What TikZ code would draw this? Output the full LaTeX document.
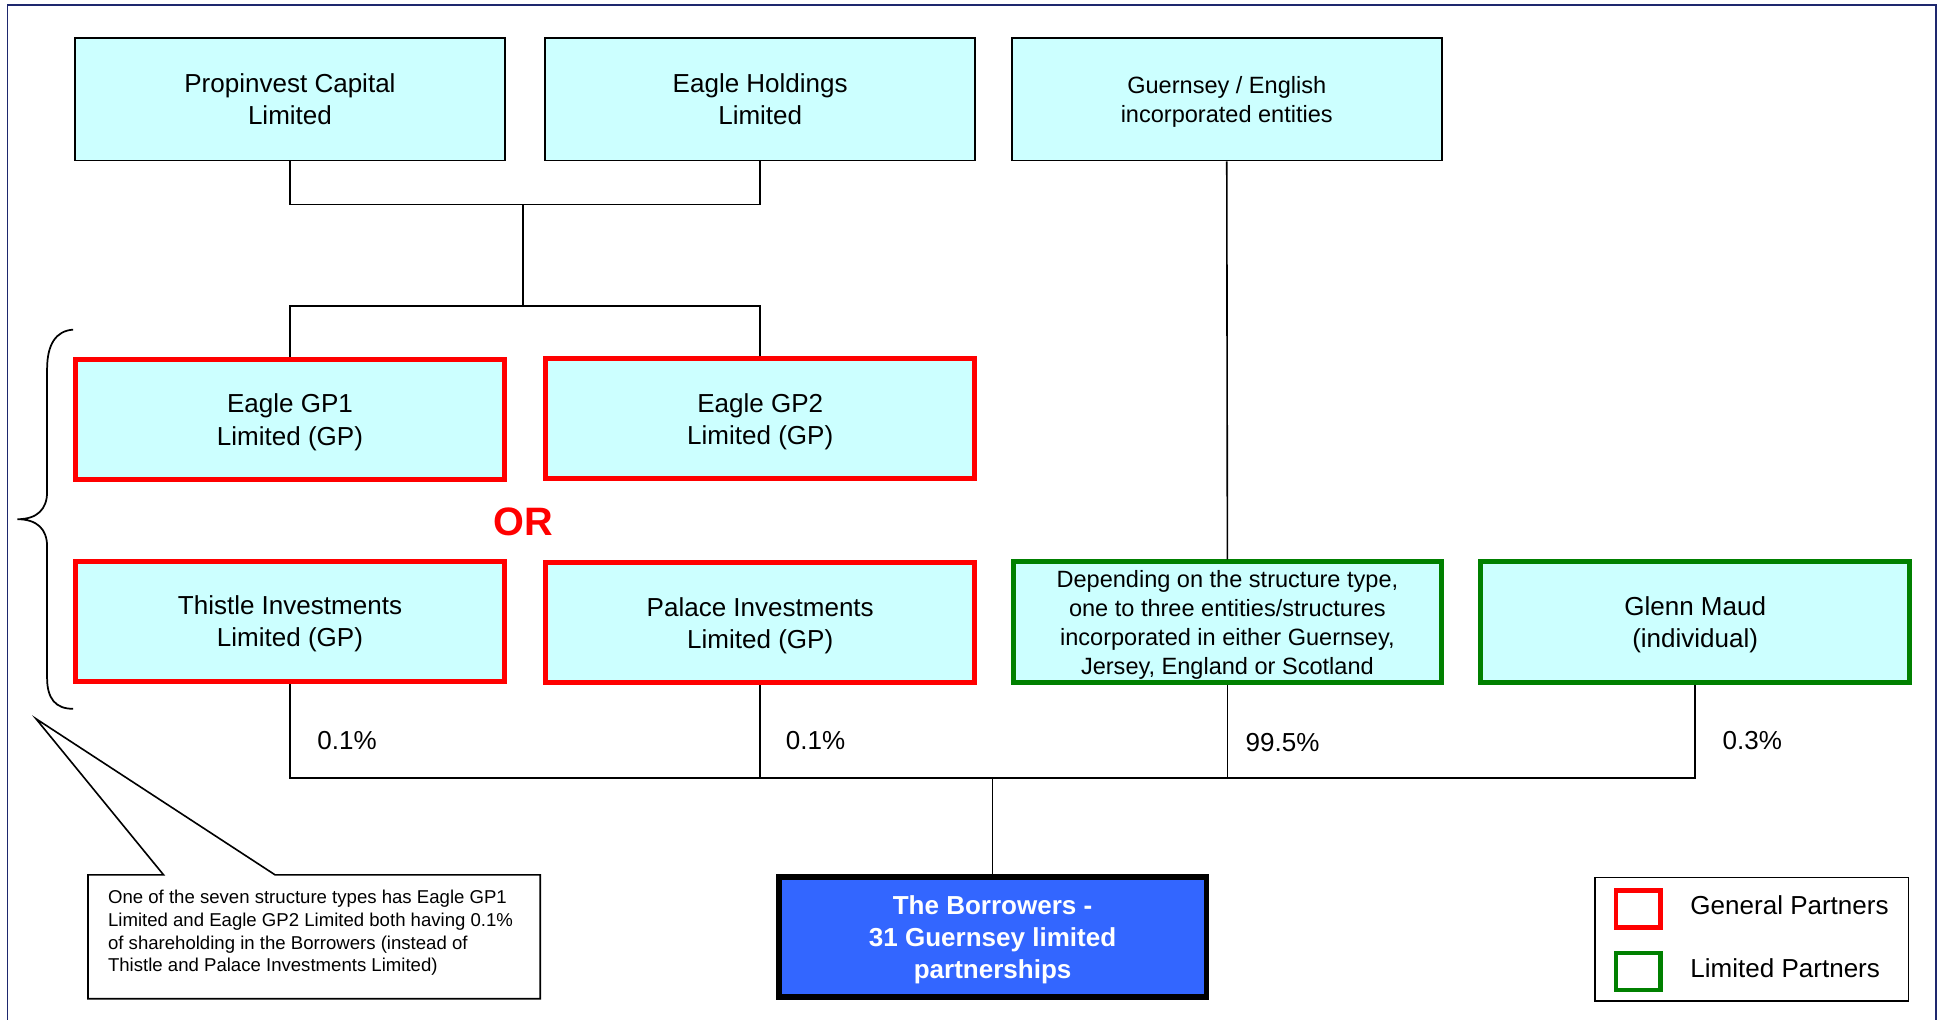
\documentclass[tikz,border=0pt]{standalone}
\usepackage{fontspec}
\setmainfont{Liberation Sans}
\definecolor{cyanfill}{HTML}{CCFFFF}
\definecolor{gpred}{HTML}{FF0000}
\definecolor{lpgreen}{HTML}{008000}
\definecolor{borrowblue}{HTML}{3366FF}
\definecolor{framecol}{RGB}{30,40,110}
\tikzset{
  entity/.style={draw=black, line width=1.5, fill=cyanfill, minimum width=347, minimum height=99,
    inner sep=0, align=center, text depth=0pt, font=\fontsize{21}{26}\selectfont},
  smalltext/.style={font=\fontsize{19}{23.4}\selectfont, text depth=-3pt},
  gpbox/.style={entity, draw=gpred, line width=4, minimum width=346, minimum height=97},
  lpbox/.style={entity, draw=lpgreen, line width=4, minimum width=346, minimum height=97},
  conn/.style={draw=black, line width=1.3},
  pct/.style={anchor=west, inner sep=0, font=\fontsize{21}{25}\selectfont},
  legtext/.style={anchor=west, inner sep=0, font=\fontsize{21}{25}\selectfont},
}
\begin{document}
\begin{tikzpicture}[x=1pt, y=-1pt]
\useasboundingbox (0,0) rectangle (1568,823);
% outer frame
\draw[framecol, line width=1.5] (6,823) -- (6,4) -- (1562,4) -- (1562,823);

% top row
\node[entity] (prop) at (234,80) {Propinvest Capital\\Limited};
\node[entity] (eagleh) at (613.5,80) {Eagle Holdings\\Limited};
\node[entity, smalltext] (guern) at (990,80) {Guernsey / English\\incorporated entities};

% GP row
\node[gpbox] (gp1) at (234,338.5) {Eagle GP1\\Limited (GP)};
\node[gpbox] (gp2) at (613.5,338) {Eagle GP2\\Limited (GP)};
\node[text=gpred, font=\fontsize{32}{36}\selectfont\bfseries, inner sep=0] (or) at (422,421) {OR};

\node[gpbox] (thistle) at (234,501.5) {Thistle Investments\\Limited (GP)};
\node[gpbox] (palace) at (613.5,502.5) {Palace Investments\\Limited (GP)};
\node[lpbox, smalltext] (depend) at (990.5,502) {Depending on the structure type,\\one to three entities/structures\\incorporated in either Guernsey,\\Jersey, England or Scotland};
\node[lpbox] (glenn) at (1368,502) {Glenn Maud\\(individual)};

% borrowers
\node[draw=black, line width=4.5, fill=borrowblue, minimum width=345, minimum height=97, inner sep=0,
  align=center, text=white, text depth=0pt, font=\fontsize{21}{26}\selectfont\bfseries] (borrow) at (801,756)
  {The Borrowers -\\31 Guernsey limited\\partnerships};

% connectors
\coordinate (jtop) at (422,165);
\coordinate (jmid) at (422,247);
\coordinate (jbot) at (801,628);
\draw[conn] (prop.south) |- (jtop) -| (eagleh.south);
\draw[conn] (jtop) -- (jmid);
\draw[conn] (gp1.north) |- (jmid) -| (gp2.north);
\draw[conn] (guern.south) -- (depend.north);
\draw[conn] (thistle.south) |- (jbot) -| (glenn.south);
\draw[conn] (palace.south) -- (palace.south |- jbot);
\draw[conn] (depend.south) -- (depend.south |- jbot);
\draw[conn] (jbot) -- (borrow.north);

% percentages
\node[pct] (p1) at (256,598) {0.1\%};
\node[pct] (p2) at (634,598) {0.1\%};
\node[pct] (p3) at (1005,599) {99.5\%};
\node[pct] (p4) at (1390,598) {0.3\%};

% brace
\draw[line width=1.4] (59,266) .. controls (45,267) and (38,278) .. (38,298) -- (38,397)
  .. controls (38,411) and (30,419) .. (14,419)
  .. controls (30,419) and (38,427) .. (38,441) -- (38,547)
  .. controls (38,564) and (45,572) .. (59,572);

% callout note
\draw[line width=1.3] (71,706) -- (132,706) -- (29,580) -- (222,706) -- (436,706) -- (436,806) -- (71,806) -- cycle;
\node[anchor=west, align=left, inner sep=0, font=\fontsize{15}{18.3}\selectfont] (note) at (87,753)
  {One of the seven structure types has Eagle GP1\\Limited and Eagle GP2 Limited both having 0.1\%\\of shareholding in the Borrowers (instead of\\Thistle and Palace Investments Limited)};

% legend
\node[draw=black, line width=1.3, minimum width=253, minimum height=100, inner sep=0] (legend) at (1413.5,758) {};
\node[draw=gpred, line width=3.5, minimum width=36, minimum height=30, inner sep=0] (lgp) at (1322,733.5) {};
\node[draw=lpgreen, line width=3.5, minimum width=36, minimum height=30, inner sep=0] (llp) at (1322,784) {};
\node[legtext] (lgpt) at (1364,730.5) {General Partners};
\node[legtext] (llpt) at (1364,781.5) {Limited Partners};
\end{tikzpicture}
\end{document}
